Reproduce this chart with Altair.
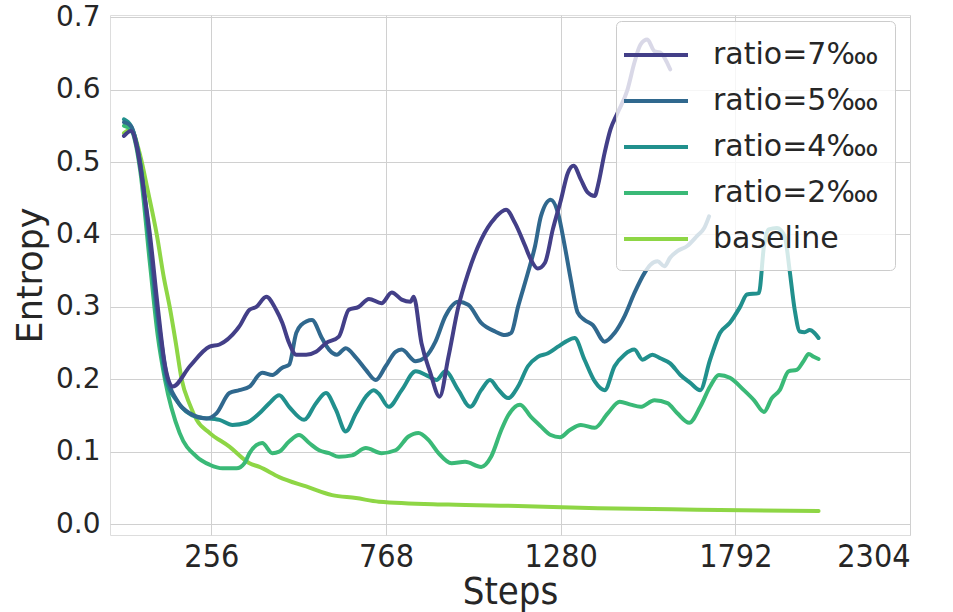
import altair as alt
import pandas as pd

labels = ["ratio=7\u2031", "ratio=5\u2031", "ratio=4\u2031", "ratio=2\u2031", "baseline"]
colors = ["#433f88", "#30688e", "#21908d", "#3ab977", "#8ed645"]

s7_steps = [0,20,38,55,76,99,120,143,193,251,280,330,338,368,388,417,446,464,484,505,534,563,592,630,659,688,718,755,785,814,840,849,872,898,925,951,980,1009,1047,1088,1120,1146,1176,1193,1213,1234,1257,1281,1301,1318,1339,1359,1380,1389,1409,1426,1447,1476,1496,1514,1534,1555,1572,1601]
s7_vals = [0.536,0.543,0.52,0.47,0.40,0.30,0.22,0.19,0.218,0.245,0.248,0.268,0.273,0.296,0.30,0.314,0.296,0.278,0.25,0.234,0.234,0.238,0.25,0.259,0.296,0.30,0.311,0.305,0.32,0.31,0.307,0.314,0.25,0.209,0.176,0.231,0.30,0.347,0.393,0.423,0.434,0.416,0.384,0.365,0.353,0.361,0.407,0.448,0.485,0.495,0.476,0.458,0.453,0.467,0.513,0.545,0.568,0.60,0.637,0.662,0.669,0.653,0.651,0.628]

s5_steps = [0,20,47,76,99,123,155,193,242,271,309,338,368,405,435,464,484,505,519,551,580,601,624,650,680,709,738,767,796,814,855,884,913,942,980,1009,1047,1088,1117,1135,1155,1184,1205,1222,1251,1272,1292,1310,1330,1350,1374,1409,1438,1467,1496,1526,1543,1564,1584,1601,1622,1651,1680,1701,1715]
s5_vals = [0.555,0.55,0.50,0.39,0.29,0.21,0.171,0.153,0.146,0.153,0.181,0.185,0.19,0.209,0.206,0.216,0.22,0.264,0.275,0.282,0.257,0.241,0.234,0.243,0.23,0.213,0.199,0.218,0.238,0.241,0.225,0.231,0.252,0.287,0.307,0.303,0.278,0.266,0.261,0.264,0.30,0.347,0.384,0.425,0.448,0.43,0.384,0.337,0.292,0.282,0.275,0.252,0.264,0.287,0.319,0.347,0.358,0.363,0.356,0.368,0.377,0.384,0.398,0.409,0.425]

s4_steps = [0,20,47,76,99,123,155,213,280,318,359,397,426,455,484,528,563,592,621,650,680,709,732,747,776,814,855,893,916,942,980,1015,1047,1073,1097,1126,1155,1184,1213,1243,1272,1295,1321,1350,1380,1409,1438,1467,1496,1520,1549,1572,1601,1631,1660,1689,1718,1747,1776,1806,1826,1861,1876,1890,1914,1937,1951,1966,1981,1995,2010,2024,2036]
s4_vals = [0.559,0.55,0.50,0.38,0.28,0.20,0.17,0.148,0.144,0.137,0.14,0.153,0.167,0.178,0.162,0.144,0.167,0.181,0.158,0.128,0.153,0.176,0.185,0.18,0.162,0.185,0.211,0.204,0.199,0.211,0.185,0.162,0.185,0.199,0.186,0.174,0.19,0.218,0.231,0.236,0.245,0.252,0.257,0.227,0.197,0.185,0.218,0.234,0.241,0.227,0.234,0.229,0.222,0.206,0.195,0.185,0.227,0.264,0.278,0.30,0.317,0.319,0.384,0.407,0.409,0.397,0.351,0.296,0.266,0.265,0.268,0.264,0.257]

s2_steps = [0,20,47,76,99,120,163,213,251,289,330,353,368,388,405,435,455,484,513,543,572,601,630,668,709,755,796,834,863,893,922,960,1000,1047,1076,1106,1126,1161,1193,1222,1251,1278,1307,1339,1380,1418,1453,1485,1514,1555,1593,1622,1657,1689,1718,1744,1776,1817,1847,1876,1899,1922,1948,1972,1992,2007,2022,2036]
s2_vals = [0.55,0.545,0.49,0.36,0.26,0.20,0.126,0.093,0.082,0.077,0.077,0.084,0.098,0.109,0.112,0.098,0.10,0.114,0.123,0.112,0.102,0.098,0.093,0.095,0.105,0.098,0.102,0.121,0.126,0.116,0.098,0.084,0.086,0.079,0.093,0.13,0.15,0.165,0.148,0.135,0.123,0.12,0.13,0.137,0.133,0.153,0.169,0.165,0.162,0.171,0.167,0.153,0.14,0.162,0.19,0.206,0.202,0.185,0.171,0.155,0.174,0.185,0.211,0.213,0.225,0.235,0.231,0.228]

base_steps = [0,20,47,70,96,117,134,152,169,193,213,251,309,368,397,455,534,610,680,747,951,1155,1389,1680,2036]
base_vals = [0.54,0.545,0.51,0.46,0.40,0.34,0.30,0.25,0.20,0.165,0.144,0.126,0.107,0.084,0.079,0.065,0.052,0.04,0.036,0.031,0.027,0.025,0.022,0.02,0.018]

x_ticks = [256, 768, 1280, 1792, 2304]
y_ticks = [0.0, 0.1, 0.2, 0.3, 0.4, 0.5, 0.6, 0.7]

series = [
    (labels[0], s7_steps, s7_vals),
    (labels[1], s5_steps, s5_vals),
    (labels[2], s4_steps, s4_vals),
    (labels[3], s2_steps, s2_vals),
    (labels[4], base_steps, base_vals),
]
rows = []
for name, xs, ys in series:
    for i, (a, b) in enumerate(zip(xs, ys)):
        rows.append({"series": name, "step": a, "entropy": b, "i": i})
df = pd.DataFrame(rows)

FONT = "DejaVu Sans"
XFONT = "DejaVu Sans Condensed"

x_enc = alt.X("step:Q", title="Steps",
              scale=alt.Scale(domain=[-41, 2304], nice=False, zero=False),
              axis=alt.Axis(values=x_ticks, format="d", grid=True, domain=False, ticks=False,
                            labelFontSize=32, titleFontSize=38, labelPadding=6, titlePadding=1,
                            labelFont=XFONT, titleFont=XFONT, titleFontWeight="normal",
                            labelColor="#262626", titleColor="#262626",
                            gridColor="#d0d0d0", gridWidth=1))
y_enc = alt.Y("entropy:Q", title="Entropy",
              scale=alt.Scale(domain=[-0.015, 0.703], nice=False, zero=False),
              axis=alt.Axis(values=y_ticks, format=".1f", grid=True, domain=False, ticks=False,
                            labelFontSize=28, titleFontSize=35, labelPadding=10, titlePadding=7,
                            labelFont=FONT, titleFont=FONT, titleFontWeight="normal",
                            labelColor="#262626", titleColor="#262626",
                            gridColor="#d0d0d0", gridWidth=1))
color_enc = alt.Color("series:N",
                      scale=alt.Scale(domain=labels, range=colors),
                      sort=labels,
                      legend=alt.Legend(orient="none", legendX=506, legendY=6, title=None,
                                        symbolType="M-2,0L2,0", symbolSize=1024, symbolStrokeWidth=4,
                                        symbolOffset=6,
                                        labelFontSize=30, labelFont=FONT, labelColor="#262626",
                                        fillColor="rgba(255,255,255,0.8)", strokeColor="#cccccc",
                                        cornerRadius=5, padding=16, rowPadding=13, labelOffset=39,
                                        labelLimit=400))

layers = []
for name in reversed(labels):
    layers.append(
        alt.Chart(df).transform_filter(alt.datum.series == name)
        .mark_line(strokeWidth=4, strokeCap="round", strokeJoin="round", interpolate="monotone")
        .encode(x=x_enc, y=y_enc, color=color_enc, order="i:Q")
    )

chart = alt.layer(*layers).properties(
    width=800, height=520,
    autosize=alt.AutoSizeParams(type="none"),
    padding={"left": 110, "top": 15, "right": 43, "bottom": 77},
).configure_view(stroke="#555555", strokeWidth=1.2).configure(background="white")

chart.save("out.html", embed_options={"renderer": "svg", "actions": False})
